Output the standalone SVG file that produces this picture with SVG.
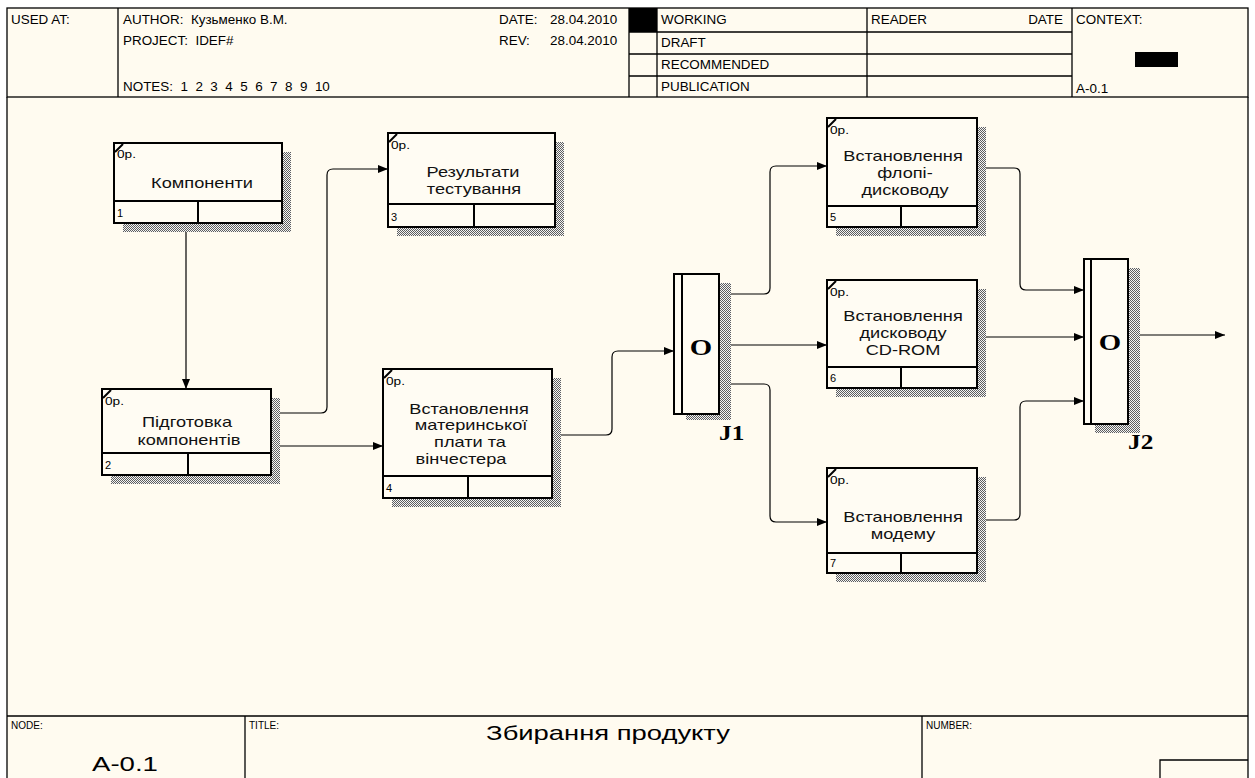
<svg xmlns="http://www.w3.org/2000/svg" width="1255" height="778" viewBox="0 0 1255 778">
  <defs>
    <pattern id="hatch" width="2" height="2" patternUnits="userSpaceOnUse">
      <rect width="2" height="2" fill="#f4f4f4"/>
      <rect width="1" height="1" fill="#5e5e5e"/>
      <rect x="1" y="1" width="1" height="1" fill="#5e5e5e"/>
    </pattern>
    <marker id="arr" viewBox="0 0 10 8" refX="10" refY="4" markerWidth="10" markerHeight="8" markerUnits="userSpaceOnUse" orient="auto">
      <path d="M0,0 L10,4 L0,8 Z" fill="#000"/>
    </marker>
    <style>
      .frame { fill: none; stroke: #000; stroke-width: 1.3; }
      .hd { font-family: "Liberation Sans", Arial, sans-serif; font-size: 12px; fill: #000; white-space: pre; }
      .ft { font-family: "Liberation Sans", Arial, sans-serif; font-size: 10px; fill: #000; }
      .box { fill: #fffcf3; stroke: #000; stroke-width: 2; }
      .div { fill: none; stroke: #000; stroke-width: 2; }
      .shadow { fill: url(#hatch); }
      .lbl { font-family: "Liberation Sans", Arial, sans-serif; font-size: 14px; fill: #111; text-anchor: middle; }
      .op { font-family: "Liberation Sans", Arial, sans-serif; font-size: 10.5px; fill: #000; }
      .num { font-family: "Liberation Sans", Arial, sans-serif; font-size: 11px; fill: #000; }
      .tick { stroke: #000; stroke-width: 2; }
      .jbox { fill: #fffcf3; stroke: #000; stroke-width: 2; }
      .jtxt { font-family: "Liberation Serif", "Times New Roman", serif; font-weight: bold; font-size: 24px; fill: #000; text-anchor: middle; }
      .jid { font-family: "Liberation Serif", "Times New Roman", serif; font-weight: bold; font-size: 22px; fill: #000; }
      .conn { fill: none; stroke: #000; stroke-width: 1.2; }
      .big { font-family: "Liberation Sans", Arial, sans-serif; font-size: 20px; fill: #000; }
    </style>
  </defs>

  <!-- page -->
  <rect x="0" y="0" width="1255" height="778" fill="#ffffff"/>
  <rect x="7" y="8" width="1241" height="775" fill="#fffbf0"/>

  <!-- form header -->
  <g id="header">
    <rect class="frame" x="7" y="8" width="1241" height="89"/>
    <line class="frame" x1="118" y1="8" x2="118" y2="97"/>
    <line class="frame" x1="629" y1="8" x2="629" y2="97"/>
    <line class="frame" x1="657" y1="8" x2="657" y2="97"/>
    <line class="frame" x1="867" y1="8" x2="867" y2="97"/>
    <line class="frame" x1="1072" y1="8" x2="1072" y2="97"/>
    <line class="frame" x1="629" y1="32" x2="1072" y2="32"/>
    <line class="frame" x1="629" y1="54" x2="1072" y2="54"/>
    <line class="frame" x1="629" y1="76" x2="1072" y2="76"/>
    <rect x="629" y="8" width="28" height="24" fill="#000"/>
    <text class="hd" transform="translate(11,24) scale(1.12,1)">USED AT:</text>
    <text class="hd" transform="translate(123,24) scale(1.12,1)">AUTHOR:  Кузьменко В.М.</text>
    <text class="hd" transform="translate(123,45) scale(1.12,1)">PROJECT:  IDEF#</text>
    <text class="hd" transform="translate(123,91) scale(1.12,1)">NOTES:  1  2  3  4  5  6  7  8  9  10</text>
    <text class="hd" transform="translate(499,24) scale(1.12,1)">DATE:</text>
    <text class="hd" transform="translate(550,24) scale(1.12,1)">28.04.2010</text>
    <text class="hd" transform="translate(499,45) scale(1.12,1)">REV:</text>
    <text class="hd" transform="translate(550,45) scale(1.12,1)">28.04.2010</text>
    <text class="hd" transform="translate(661,24) scale(1.12,1)">WORKING</text>
    <text class="hd" transform="translate(661,47) scale(1.12,1)">DRAFT</text>
    <text class="hd" transform="translate(661,69) scale(1.12,1)">RECOMMENDED</text>
    <text class="hd" transform="translate(661,91) scale(1.12,1)">PUBLICATION</text>
    <text class="hd" transform="translate(871,24) scale(1.12,1)">READER</text>
    <text class="hd" transform="translate(1063,24) scale(1.12,1)" text-anchor="end">DATE</text>
    <text class="hd" transform="translate(1076,24) scale(1.12,1)">CONTEXT:</text>
    <rect x="1135" y="52" width="43" height="15" fill="#000"/>
    <text class="hd" transform="translate(1076,93) scale(1.12,1)">A-0.1</text>
  </g>

  <!-- drawing area border and footer -->
  <g id="footer">
    <line class="frame" x1="7" y1="97" x2="7" y2="778"/>
    <line class="frame" x1="1248" y1="97" x2="1248" y2="778"/>
    <line class="frame" x1="7" y1="716" x2="1248" y2="716"/>
    <line class="frame" x1="245" y1="716" x2="245" y2="778"/>
    <line class="frame" x1="922" y1="716" x2="922" y2="778"/>
    <polyline class="frame" points="1160,778 1160,760 1248,760"/>
    <text class="ft" x="11" y="729">NODE:</text>
    <text class="big" transform="translate(92,771) scale(1.38,1)">A-0.1</text>
    <text class="ft" x="249" y="729">TITLE:</text>
    <text class="big" transform="translate(608,740) scale(1.37,1)" text-anchor="middle">Збирання продукту</text>
    <text class="ft" x="926" y="729">NUMBER:</text>
  </g>

  <!-- connectors -->
  <g id="connectors">
    <path class="conn" d="M186,223 V389" marker-end="url(#arr)"/>
    <path class="conn" d="M271,413 H321 Q327,413 327,407 V175 Q327,169 333,169 H388" marker-end="url(#arr)"/>
    <path class="conn" d="M271,446 H383" marker-end="url(#arr)"/>
    <path class="conn" d="M552,435 H606 Q612,435 612,429 V357 Q612,351 618,351 H674" marker-end="url(#arr)"/>
    <path class="conn" d="M719,294 H764 Q770,294 770,288 V172 Q770,166 776,166 H827" marker-end="url(#arr)"/>
    <path class="conn" d="M719,345 H827" marker-end="url(#arr)"/>
    <path class="conn" d="M719,384 H764 Q770,384 770,390 V516 Q770,522 776,522 H827" marker-end="url(#arr)"/>
    <path class="conn" d="M977,168 H1014 Q1020,168 1020,174 V284 Q1020,290 1026,290 H1084" marker-end="url(#arr)"/>
    <path class="conn" d="M977,337 H1084" marker-end="url(#arr)"/>
    <path class="conn" d="M977,520 H1014 Q1020,520 1020,514 V407 Q1020,401 1026,401 H1084" marker-end="url(#arr)"/>
    <path class="conn" d="M1128,335 H1225" marker-end="url(#arr)"/>
  </g>

  <!-- activity 1 -->
  <g id="node1">
    <rect class="shadow" x="123" y="152" width="168" height="80"/>
    <rect class="box" x="114" y="143" width="168" height="80"/>
    <line class="div" x1="114" y1="201" x2="282" y2="201"/>
    <line class="div" x1="198" y1="201" x2="198" y2="223"/>
    <line class="tick" x1="115" y1="152" x2="123" y2="144"/>
    <text class="op" transform="translate(117,158) scale(1.3,1)">0р.</text>
    <text class="lbl" transform="translate(202,188) scale(1.3,1)">Компоненти</text>
    <text class="num" x="117" y="217">1</text>
  </g>

  <!-- activity 3 -->
  <g id="node3">
    <rect class="shadow" x="397" y="142" width="167" height="94"/>
    <rect class="box" x="388" y="133" width="167" height="94"/>
    <line class="div" x1="388" y1="204" x2="555" y2="204"/>
    <line class="div" x1="474" y1="204" x2="474" y2="227"/>
    <line class="tick" x1="389" y1="142" x2="397" y2="134"/>
    <text class="op" transform="translate(391,149) scale(1.3,1)">0р.</text>
    <text class="lbl" transform="translate(473,177) scale(1.3,1)">Результати</text>
    <text class="lbl" transform="translate(474,194) scale(1.3,1)">тестування</text>
    <text class="num" x="391" y="221">3</text>
  </g>

  <!-- activity 2 -->
  <g id="node2">
    <rect class="shadow" x="111" y="398" width="169" height="86"/>
    <rect class="box" x="102" y="389" width="169" height="86"/>
    <line class="div" x1="102" y1="453" x2="271" y2="453"/>
    <line class="div" x1="188" y1="453" x2="188" y2="475"/>
    <line class="tick" x1="103" y1="398" x2="111" y2="390"/>
    <text class="op" transform="translate(105,405) scale(1.3,1)">0р.</text>
    <text class="lbl" transform="translate(187,427) scale(1.3,1)">Підготовка</text>
    <text class="lbl" transform="translate(189,445) scale(1.3,1)">компонентів</text>
    <text class="num" x="105" y="469">2</text>
  </g>

  <!-- activity 4 -->
  <g id="node4">
    <rect class="shadow" x="392" y="378" width="169" height="129"/>
    <rect class="box" x="383" y="369" width="169" height="129"/>
    <line class="div" x1="383" y1="476" x2="552" y2="476"/>
    <line class="div" x1="468" y1="476" x2="468" y2="498"/>
    <line class="tick" x1="384" y1="378" x2="392" y2="370"/>
    <text class="op" transform="translate(386,385) scale(1.3,1)">0р.</text>
    <text class="lbl" transform="translate(469,414) scale(1.3,1)">Встановлення</text>
    <text class="lbl" transform="translate(471,430) scale(1.3,1)">материнської</text>
    <text class="lbl" transform="translate(470,447) scale(1.3,1)">плати та</text>
    <text class="lbl" transform="translate(461,464) scale(1.3,1)">вінчестера</text>
    <text class="num" x="386" y="492">4</text>
  </g>

  <!-- junction J1 -->
  <g id="J1">
    <rect class="shadow" x="686" y="283" width="45" height="137"/>
    <rect class="jbox" x="674" y="274" width="45" height="140"/>
    <line class="div" x1="682" y1="274" x2="682" y2="414"/>
    <text class="jtxt" transform="translate(701,355) scale(1.2,1)">O</text>
    <text class="jid" transform="translate(719,440) scale(1.15,1)">J1</text>
  </g>

  <!-- activity 5 -->
  <g id="node5">
    <rect class="shadow" x="836" y="127" width="150" height="109"/>
    <rect class="box" x="827" y="118" width="150" height="109"/>
    <line class="div" x1="827" y1="206" x2="977" y2="206"/>
    <line class="div" x1="901" y1="206" x2="901" y2="227"/>
    <line class="tick" x1="828" y1="127" x2="836" y2="119"/>
    <text class="op" transform="translate(830,134) scale(1.3,1)">0р.</text>
    <text class="lbl" transform="translate(903,161) scale(1.3,1)">Встановлення</text>
    <text class="lbl" transform="translate(905,178) scale(1.3,1)">флопі-</text>
    <text class="lbl" transform="translate(905,195) scale(1.3,1)">дисководу</text>
    <text class="num" x="830" y="221">5</text>
  </g>

  <!-- activity 6 -->
  <g id="node6">
    <rect class="shadow" x="836" y="289" width="150" height="108"/>
    <rect class="box" x="827" y="280" width="150" height="108"/>
    <line class="div" x1="827" y1="367" x2="977" y2="367"/>
    <line class="div" x1="901" y1="367" x2="901" y2="388"/>
    <line class="tick" x1="828" y1="289" x2="836" y2="281"/>
    <text class="op" transform="translate(830,296) scale(1.3,1)">0р.</text>
    <text class="lbl" transform="translate(903,321) scale(1.3,1)">Встановлення</text>
    <text class="lbl" transform="translate(903,338) scale(1.3,1)">дисководу</text>
    <text class="lbl" transform="translate(903,355) scale(1.3,1)">CD-ROM</text>
    <text class="num" x="830" y="382">6</text>
  </g>

  <!-- activity 7 -->
  <g id="node7">
    <rect class="shadow" x="836" y="477" width="150" height="105"/>
    <rect class="box" x="827" y="468" width="150" height="105"/>
    <line class="div" x1="827" y1="553" x2="977" y2="553"/>
    <line class="div" x1="901" y1="553" x2="901" y2="573"/>
    <line class="tick" x1="828" y1="477" x2="836" y2="469"/>
    <text class="op" transform="translate(830,484) scale(1.3,1)">0р.</text>
    <text class="lbl" transform="translate(903,522) scale(1.3,1)">Встановлення</text>
    <text class="lbl" transform="translate(903,539) scale(1.3,1)">модему</text>
    <text class="num" x="830" y="567">7</text>
  </g>

  <!-- junction J2 -->
  <g id="J2">
    <rect class="shadow" x="1095" y="268" width="45" height="165"/>
    <rect class="jbox" x="1084" y="259" width="44" height="165"/>
    <line class="div" x1="1091" y1="259" x2="1091" y2="424"/>
    <text class="jtxt" transform="translate(1110,350) scale(1.2,1)">O</text>
    <text class="jid" transform="translate(1128,449) scale(1.15,1)">J2</text>
  </g>
</svg>
